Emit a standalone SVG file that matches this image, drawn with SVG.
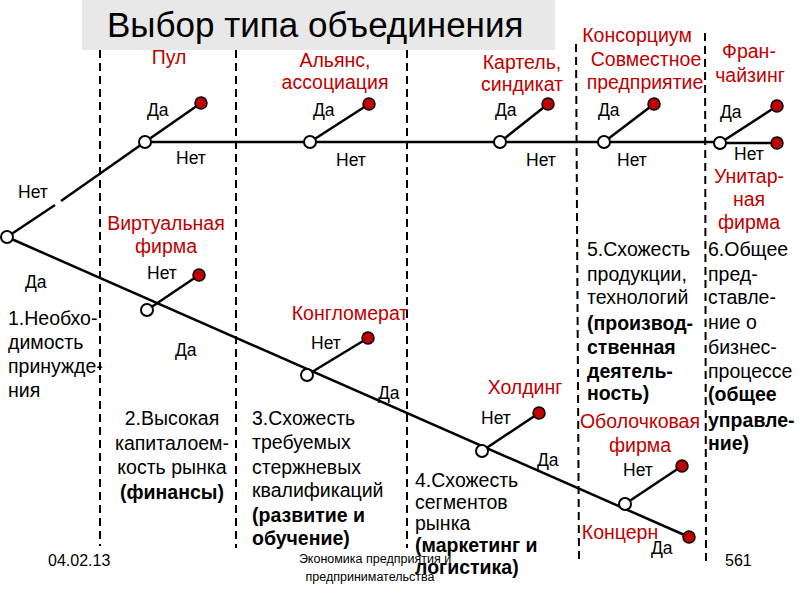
<svg xmlns="http://www.w3.org/2000/svg" width="800" height="600" viewBox="0 0 800 600">
<style>
text{font-family:"Liberation Sans",Arial,sans-serif;font-size:19.5px;fill:#000}
.y{font-size:17.5px}
.r{fill:#c00000}
.c{text-anchor:middle}
.b{font-weight:bold}
.f{font-size:12.5px}
.d{font-size:16px}
.dash{stroke:#000;stroke-width:2;stroke-dasharray:8,5;fill:none}
.edge{stroke:#000;stroke-width:2.5;fill:none}
.n{fill:#fff;stroke:#000;stroke-width:2}
.leaf{fill:#c00000;stroke:#000;stroke-width:1.5}
</style>
<rect width="800" height="600" fill="#fff"/>
<g id="title">
<rect x="82" y="0" width="473" height="50" fill="#e8e8e8"/>
<text x="107" y="37" style="font-size:35px">Выбор типа объединения</text>
</g>
<g id="separators">
<line class="dash" x1="100" y1="50" x2="100" y2="546"/>
<line class="dash" x1="236" y1="50" x2="236" y2="548"/>
<line class="dash" x1="407" y1="50" x2="407" y2="548"/>
<line class="dash" x1="576" y1="44" x2="579" y2="560"/>
<line class="dash" x1="705" y1="33" x2="706" y2="563"/>
</g>
<g id="footer">
<text class="d" x="48" y="566">04.02.13</text>
<text class="f c" x="375" y="563">Экономика предприятия и</text>
<text class="f c" x="370" y="581">предпринимательства</text>
<text class="d" x="725" y="566">561</text>
</g>
<g id="connectors">
<line class="edge" x1="7" y1="237" x2="55" y2="205"/>
<line class="edge" x1="61" y1="201" x2="145" y2="142"/>
<line class="edge" x1="145" y1="142" x2="720" y2="142"/>
<line class="edge" x1="720" y1="143" x2="777" y2="143"/>
<line class="edge" x1="145" y1="142" x2="201" y2="103"/>
<line class="edge" x1="310" y1="142" x2="369" y2="104"/>
<line class="edge" x1="500" y1="142" x2="548" y2="104"/>
<line class="edge" x1="604" y1="142" x2="654" y2="104"/>
<line class="edge" x1="720" y1="143" x2="777" y2="106"/>
<line class="edge" x1="7" y1="237" x2="689" y2="537"/>
<line class="edge" x1="147" y1="310" x2="199" y2="275"/>
<line class="edge" x1="307" y1="375" x2="368" y2="338"/>
<line class="edge" x1="482" y1="451" x2="539" y2="413"/>
<line class="edge" x1="625" y1="504" x2="682" y2="466"/>
</g>
<g id="root"><circle class="n" cx="7" cy="237" r="6"/>
<text class="y" x="18" y="198">Нет</text><text class="y" x="25" y="288">Да</text></g>
<g id="q-pool"><circle class="n" cx="145" cy="142" r="6"/>
<text class="y" x="147" y="116">Да</text><text class="y" x="176" y="164">Нет</text></g>
<g id="pool"><circle class="leaf" cx="201" cy="103" r="6"/>
<text class="r c" x="169" y="64">Пул</text></g>
<g id="q-alliance"><circle class="n" cx="310" cy="142" r="6"/>
<text class="y" x="313" y="116">Да</text><text class="y" x="336" y="166">Нет</text></g>
<g id="alliance"><circle class="leaf" cx="369" cy="104" r="6"/>
<text class="r c" x="335" y="67">Альянс,</text><text class="r c" x="335" y="89">ассоциация</text></g>
<g id="q-cartel"><circle class="n" cx="500" cy="142" r="6"/>
<text class="y" x="495" y="116">Да</text><text class="y" x="526" y="166">Нет</text></g>
<g id="cartel"><circle class="leaf" cx="548" cy="104" r="6"/>
<text class="r c" x="522" y="69">Картель,</text><text class="r c" x="522" y="91">синдикат</text></g>
<g id="q-jv"><circle class="n" cx="604" cy="142" r="6"/>
<text class="y" x="598" y="116">Да</text><text class="y" x="617" y="166">Нет</text></g>
<g id="jv"><circle class="leaf" cx="654" cy="104" r="6"/>
<text class="r c" x="637" y="42">Консорциум</text><text class="r c" x="646" y="66">Совместное</text><text class="r c" x="645" y="89">предприятие</text></g>
<g id="q-franchise"><circle class="n" cx="720" cy="143" r="6"/>
<text class="y" x="720" y="118">Да</text><text class="y" x="734" y="160">Нет</text></g>
<g id="franchise"><circle class="leaf" cx="777" cy="106" r="6"/>
<text class="r c" x="749" y="58">Фран-</text><text class="r c" x="750" y="82">чайзинг</text></g>
<g id="unitary"><circle class="leaf" cx="777" cy="143" r="6"/>
<text class="r c" x="749" y="183">Унитар-</text><text class="r c" x="749" y="206">ная</text><text class="r c" x="749" y="229">фирма</text></g>
<g id="q-virtual"><circle class="n" cx="147" cy="310" r="6"/>
<text class="y" x="147" y="279">Нет</text><text class="y" x="175" y="356">Да</text></g>
<g id="virtual"><circle class="leaf" cx="199" cy="275" r="6"/>
<text class="r c" x="166" y="230">Виртуальная</text><text class="r c" x="166" y="253">фирма</text></g>
<g id="q-conglomerate"><circle class="n" cx="307" cy="375" r="6"/>
<text class="y" x="311" y="349">Нет</text><text class="y" x="378" y="399">Да</text></g>
<g id="conglomerate"><circle class="leaf" cx="368" cy="338" r="6"/>
<text class="r c" x="350" y="320">Конгломерат</text></g>
<g id="q-holding"><circle class="n" cx="482" cy="451" r="6"/>
<text class="y" x="481" y="424">Нет</text><text class="y" x="537" y="466">Да</text></g>
<g id="holding"><circle class="leaf" cx="539" cy="413" r="6"/>
<text class="r c" x="525" y="394">Холдинг</text></g>
<g id="q-shell"><circle class="n" cx="625" cy="504" r="6"/>
<text class="y" x="623" y="476">Нет</text><text class="y" x="651" y="554">Да</text></g>
<g id="shell"><circle class="leaf" cx="682" cy="466" r="6"/>
<text class="r c" x="640" y="428">Оболочковая</text><text class="r c" x="640" y="452">фирма</text></g>
<g id="concern"><circle class="leaf" cx="689" cy="537" r="6"/>
<text class="r c" x="620" y="539">Концерн</text></g>
<g id="criteria">
<text x="8" y="325">1.Необхо-</text><text x="8" y="349">димость</text><text x="8" y="373">принужде-</text><text x="8" y="397">ния</text>
<text class="c" x="172" y="425">2.Высокая</text><text class="c" x="172" y="450">капиталоем-</text><text class="c" x="172" y="474">кость рынка</text><text class="c b" x="172" y="499">(финансы)</text>
<text x="252" y="425">3.Схожесть</text><text x="252" y="449">требуемых</text><text x="252" y="474">стержневых</text><text x="252" y="497">квалификаций</text><text class="b" x="252" y="522">(развитие и</text><text class="b" x="252" y="545">обучение)</text>
<text x="415" y="487">4.Схожесть</text><text x="415" y="509">сегментов</text><text x="415" y="530">рынка</text><text class="b" x="415" y="552">(маркетинг и</text><text class="b" x="415" y="574">логистика)</text>
<text x="587" y="256">5.Схожесть</text><text x="587" y="281">продукции,</text><text x="587" y="304">технологий</text><text class="b" x="587" y="330">(производ-</text><text class="b" x="587" y="354">ственная</text><text class="b" x="587" y="378">деятель-</text><text class="b" x="587" y="400">ность)</text>
<text x="708" y="256">6.Общее</text><text x="708" y="281">пред-</text><text x="708" y="304">ставле-</text><text x="708" y="329">ние о</text><text x="708" y="354">бизнес-</text><text x="708" y="378">процессе</text><text class="b" x="708" y="401">(общее</text><text class="b" x="708" y="427">управле-</text><text class="b" x="708" y="450">ние)</text>
</g>
</svg>
